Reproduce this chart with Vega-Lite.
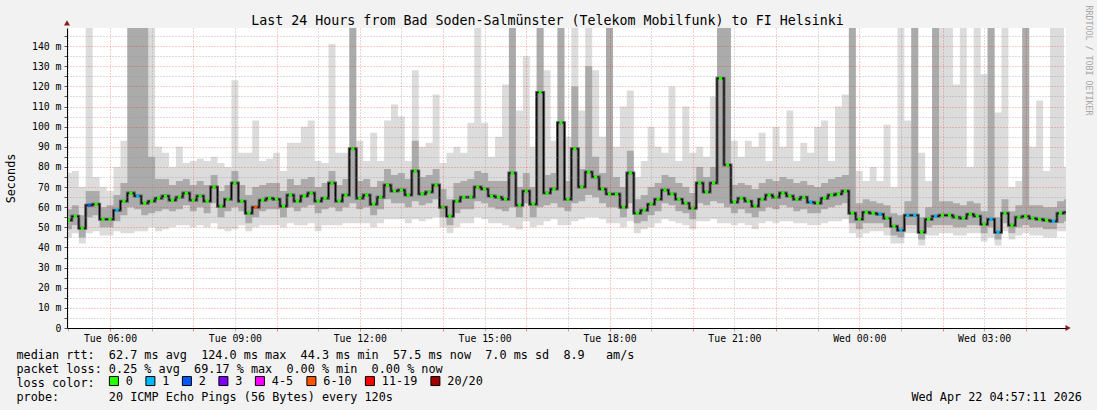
{
"$schema": "https://vega.github.io/schema/vega-lite/v6.json",
"width": 999, "height": 300,
"autosize": {"type": "none"},
"padding": {"left": 67, "top": 28, "right": 31, "bottom": 82},
"background": "#f2f2f2",
"config": {"view": {"fill": "white", "stroke": null}},
"title": {"text": "Last 24 Hours from Bad Soden-Salmünster (Telekom Mobilfunk) to FI Helsinki", "font": "DejaVu Sans Mono", "fontSize": 13.3, "fontWeight": "normal", "color": "#000000", "anchor": "middle", "dx": -19, "offset": -22.5},
"data": {"values": [
{"t":"2026-04-21T04:50Z","lo":46,"q1":50,"med":54,"q3":59,"hi":76,"loss":"0"},
{"t":"2026-04-21T05:00Z","lo":45,"q1":49,"med":53.5,"q3":59,"hi":77,"loss":"0"},
{"t":"2026-04-21T05:10Z","lo":47,"q1":51,"med":55.5,"q3":61,"hi":78,"loss":"0"},
{"t":"2026-04-21T05:20Z","lo":42,"q1":45,"med":49.5,"q3":56,"hi":70,"loss":"0"},
{"t":"2026-04-21T05:30Z","lo":47,"q1":55,"med":61,"q3":68,"hi":149,"loss":"2"},
{"t":"2026-04-21T05:40Z","lo":48,"q1":56,"med":61.5,"q3":68,"hi":75,"loss":"0"},
{"t":"2026-04-21T05:50Z","lo":46,"q1":50,"med":54,"q3":60,"hi":70,"loss":"0"},
{"t":"2026-04-21T06:00Z","lo":46,"q1":50,"med":54,"q3":61,"hi":68,"loss":"0"},
{"t":"2026-04-21T06:10Z","lo":48,"q1":53,"med":58.5,"q3":66,"hi":80,"loss":"1"},
{"t":"2026-04-21T06:20Z","lo":47,"q1":56,"med":63,"q3":72,"hi":93,"loss":"0"},
{"t":"2026-04-21T06:30Z","lo":47,"q1":60,"med":67,"q3":149,"hi":149,"loss":"0"},
{"t":"2026-04-21T06:40Z","lo":48,"q1":59,"med":65.5,"q3":149,"hi":149,"loss":"1"},
{"t":"2026-04-21T06:50Z","lo":48,"q1":56,"med":62,"q3":149,"hi":149,"loss":"0"},
{"t":"2026-04-21T07:00Z","lo":50,"q1":57,"med":63,"q3":85,"hi":149,"loss":"0"},
{"t":"2026-04-21T07:10Z","lo":48,"q1":58,"med":64.5,"q3":74,"hi":90,"loss":"0"},
{"t":"2026-04-21T07:20Z","lo":49,"q1":59,"med":65.5,"q3":74,"hi":87,"loss":"0"},
{"t":"2026-04-21T07:30Z","lo":50,"q1":58,"med":63.5,"q3":71,"hi":80,"loss":"0"},
{"t":"2026-04-21T07:40Z","lo":51,"q1":59,"med":65,"q3":73,"hi":90,"loss":"0"},
{"t":"2026-04-21T07:50Z","lo":51,"q1":61,"med":67,"q3":74,"hi":82,"loss":"0"},
{"t":"2026-04-21T08:00Z","lo":50,"q1":58,"med":63.5,"q3":71,"hi":83,"loss":"0"},
{"t":"2026-04-21T08:10Z","lo":51,"q1":60,"med":65.5,"q3":73,"hi":84,"loss":"0"},
{"t":"2026-04-21T08:20Z","lo":50,"q1":57,"med":63,"q3":71,"hi":83,"loss":"0"},
{"t":"2026-04-21T08:30Z","lo":52,"q1":62,"med":70,"q3":76,"hi":85,"loss":"0"},
{"t":"2026-04-21T08:40Z","lo":49,"q1":55,"med":60.5,"q3":68,"hi":82,"loss":"0"},
{"t":"2026-04-21T08:50Z","lo":48,"q1":58,"med":64,"q3":71,"hi":80,"loss":"0"},
{"t":"2026-04-21T09:00Z","lo":49,"q1":60,"med":72,"q3":78,"hi":123,"loss":"0"},
{"t":"2026-04-21T09:10Z","lo":51,"q1":58,"med":63,"q3":71,"hi":87,"loss":"0"},
{"t":"2026-04-21T09:20Z","lo":48,"q1":52,"med":57,"q3":66,"hi":87,"loss":"0"},
{"t":"2026-04-21T09:30Z","lo":50,"q1":55,"med":60,"q3":70,"hi":103,"loss":"6-10"},
{"t":"2026-04-21T09:40Z","lo":51,"q1":58,"med":63.5,"q3":71,"hi":83,"loss":"0"},
{"t":"2026-04-21T09:50Z","lo":51,"q1":59,"med":64.5,"q3":72,"hi":84,"loss":"0"},
{"t":"2026-04-21T10:00Z","lo":51,"q1":59,"med":64,"q3":72,"hi":87,"loss":"0"},
{"t":"2026-04-21T10:10Z","lo":50,"q1":55,"med":60.5,"q3":68,"hi":78,"loss":"0"},
{"t":"2026-04-21T10:20Z","lo":52,"q1":60,"med":66,"q3":74,"hi":92,"loss":"0"},
{"t":"2026-04-21T10:30Z","lo":51,"q1":58,"med":63,"q3":71,"hi":92,"loss":"0"},
{"t":"2026-04-21T10:40Z","lo":51,"q1":60,"med":65.5,"q3":74,"hi":100,"loss":"0"},
{"t":"2026-04-21T10:50Z","lo":52,"q1":61,"med":67,"q3":75,"hi":103,"loss":"0"},
{"t":"2026-04-21T11:00Z","lo":48,"q1":57,"med":63,"q3":70,"hi":83,"loss":"0"},
{"t":"2026-04-21T11:10Z","lo":51,"q1":59,"med":64.5,"q3":72,"hi":82,"loss":"0"},
{"t":"2026-04-21T11:20Z","lo":51,"q1":60,"med":72,"q3":78,"hi":141,"loss":"0"},
{"t":"2026-04-21T11:30Z","lo":51,"q1":58,"med":63,"q3":71,"hi":87,"loss":"0"},
{"t":"2026-04-21T11:40Z","lo":52,"q1":60,"med":66,"q3":74,"hi":87,"loss":"0"},
{"t":"2026-04-21T11:50Z","lo":52,"q1":62,"med":89,"q3":149,"hi":149,"loss":"0"},
{"t":"2026-04-21T12:00Z","lo":52,"q1":59,"med":64.5,"q3":73,"hi":93,"loss":"0"},
{"t":"2026-04-21T12:10Z","lo":52,"q1":60,"med":66,"q3":74,"hi":83,"loss":"0"},
{"t":"2026-04-21T12:20Z","lo":50,"q1":56,"med":61.5,"q3":70,"hi":97,"loss":"0"},
{"t":"2026-04-21T12:30Z","lo":52,"q1":59,"med":65,"q3":73,"hi":83,"loss":"0"},
{"t":"2026-04-21T12:40Z","lo":54,"q1":64,"med":71,"q3":79,"hi":103,"loss":"0"},
{"t":"2026-04-21T12:50Z","lo":54,"q1":62,"med":68,"q3":76,"hi":111,"loss":"0"},
{"t":"2026-04-21T13:00Z","lo":54,"q1":62,"med":68.5,"q3":77,"hi":105,"loss":"0"},
{"t":"2026-04-21T13:10Z","lo":52,"q1":60,"med":66,"q3":74,"hi":83,"loss":"0"},
{"t":"2026-04-21T13:20Z","lo":54,"q1":63,"med":78,"q3":93,"hi":128,"loss":"0"},
{"t":"2026-04-21T13:30Z","lo":53,"q1":61,"med":66.5,"q3":75,"hi":90,"loss":"0"},
{"t":"2026-04-21T13:40Z","lo":54,"q1":62,"med":67.5,"q3":76,"hi":92,"loss":"0"},
{"t":"2026-04-21T13:50Z","lo":55,"q1":64,"med":71,"q3":79,"hi":116,"loss":"0"},
{"t":"2026-04-21T14:00Z","lo":50,"q1":55,"med":60,"q3":69,"hi":82,"loss":"0"},
{"t":"2026-04-21T14:10Z","lo":47,"q1":51,"med":55.5,"q3":64,"hi":87,"loss":"0"},
{"t":"2026-04-21T14:20Z","lo":50,"q1":57,"med":63,"q3":72,"hi":90,"loss":"0"},
{"t":"2026-04-21T14:30Z","lo":52,"q1":59,"med":65,"q3":73,"hi":87,"loss":"0"},
{"t":"2026-04-21T14:40Z","lo":52,"q1":59,"med":65,"q3":74,"hi":102,"loss":"0"},
{"t":"2026-04-21T14:50Z","lo":55,"q1":63,"med":70,"q3":78,"hi":149,"loss":"0"},
{"t":"2026-04-21T15:00Z","lo":54,"q1":62,"med":69,"q3":77,"hi":102,"loss":"0"},
{"t":"2026-04-21T15:10Z","lo":52,"q1":60,"med":65.5,"q3":73,"hi":85,"loss":"0"},
{"t":"2026-04-21T15:20Z","lo":52,"q1":59,"med":65,"q3":73,"hi":95,"loss":"0"},
{"t":"2026-04-21T15:30Z","lo":51,"q1":58,"med":64,"q3":73,"hi":121,"loss":"0"},
{"t":"2026-04-21T15:40Z","lo":50,"q1":60,"med":77,"q3":149,"hi":149,"loss":"0"},
{"t":"2026-04-21T15:50Z","lo":49,"q1":55,"med":61,"q3":70,"hi":108,"loss":"0"},
{"t":"2026-04-21T16:00Z","lo":53,"q1":62,"med":68,"q3":77,"hi":135,"loss":"0"},
{"t":"2026-04-21T16:10Z","lo":50,"q1":55,"med":61.5,"q3":70,"hi":90,"loss":"0"},
{"t":"2026-04-21T16:20Z","lo":51,"q1":60,"med":117,"q3":149,"hi":149,"loss":"0"},
{"t":"2026-04-21T16:30Z","lo":53,"q1":61,"med":67,"q3":76,"hi":128,"loss":"0"},
{"t":"2026-04-21T16:40Z","lo":54,"q1":62,"med":69,"q3":77,"hi":93,"loss":"0"},
{"t":"2026-04-21T16:50Z","lo":51,"q1":60,"med":102,"q3":149,"hi":149,"loss":"0"},
{"t":"2026-04-21T17:00Z","lo":51,"q1":58,"med":64,"q3":73,"hi":95,"loss":"0"},
{"t":"2026-04-21T17:10Z","lo":53,"q1":62,"med":89,"q3":120,"hi":149,"loss":"0"},
{"t":"2026-04-21T17:20Z","lo":54,"q1":63,"med":70,"q3":79,"hi":108,"loss":"0"},
{"t":"2026-04-21T17:30Z","lo":55,"q1":66,"med":77.5,"q3":130,"hi":149,"loss":"0"},
{"t":"2026-04-21T17:40Z","lo":55,"q1":65,"med":75,"q3":85,"hi":128,"loss":"0"},
{"t":"2026-04-21T17:50Z","lo":54,"q1":62,"med":69,"q3":77,"hi":95,"loss":"0"},
{"t":"2026-04-21T18:00Z","lo":52,"q1":60,"med":66.5,"q3":149,"hi":149,"loss":"0"},
{"t":"2026-04-21T18:10Z","lo":52,"q1":60,"med":66.5,"q3":75,"hi":90,"loss":"0"},
{"t":"2026-04-21T18:20Z","lo":50,"q1":55,"med":60,"q3":70,"hi":110,"loss":"0"},
{"t":"2026-04-21T18:30Z","lo":53,"q1":62,"med":77,"q3":88,"hi":118,"loss":"0"},
{"t":"2026-04-21T18:40Z","lo":47,"q1":52,"med":57,"q3":64,"hi":75,"loss":"0"},
{"t":"2026-04-21T18:50Z","lo":49,"q1":53,"med":58.5,"q3":66,"hi":83,"loss":"0"},
{"t":"2026-04-21T19:00Z","lo":50,"q1":56,"med":61.5,"q3":70,"hi":100,"loss":"0"},
{"t":"2026-04-21T19:10Z","lo":52,"q1":58,"med":64,"q3":72,"hi":90,"loss":"0"},
{"t":"2026-04-21T19:20Z","lo":54,"q1":62,"med":68.5,"q3":76,"hi":87,"loss":"0"},
{"t":"2026-04-21T19:30Z","lo":53,"q1":61,"med":66.5,"q3":75,"hi":120,"loss":"0"},
{"t":"2026-04-21T19:40Z","lo":52,"q1":58,"med":64,"q3":72,"hi":83,"loss":"0"},
{"t":"2026-04-21T19:50Z","lo":51,"q1":57,"med":62,"q3":70,"hi":110,"loss":"0"},
{"t":"2026-04-21T20:00Z","lo":49,"q1":54,"med":59.5,"q3":67,"hi":87,"loss":"0"},
{"t":"2026-04-21T20:10Z","lo":53,"q1":62,"med":72,"q3":80,"hi":90,"loss":"0"},
{"t":"2026-04-21T20:20Z","lo":53,"q1":61,"med":67.5,"q3":75,"hi":85,"loss":"0"},
{"t":"2026-04-21T20:30Z","lo":54,"q1":63,"med":72,"q3":80,"hi":115,"loss":"0"},
{"t":"2026-04-21T20:40Z","lo":52,"q1":62,"med":124,"q3":149,"hi":149,"loss":"0"},
{"t":"2026-04-21T20:50Z","lo":52,"q1":60,"med":81,"q3":149,"hi":149,"loss":"0"},
{"t":"2026-04-21T21:00Z","lo":51,"q1":57,"med":62.5,"q3":71,"hi":93,"loss":"0"},
{"t":"2026-04-21T21:10Z","lo":52,"q1":59,"med":64.5,"q3":72,"hi":85,"loss":"0"},
{"t":"2026-04-21T21:20Z","lo":51,"q1":57,"med":63,"q3":71,"hi":93,"loss":"0"},
{"t":"2026-04-21T21:30Z","lo":49,"q1":55,"med":60.5,"q3":69,"hi":90,"loss":"0"},
{"t":"2026-04-21T21:40Z","lo":52,"q1":58,"med":64,"q3":72,"hi":97,"loss":"0"},
{"t":"2026-04-21T21:50Z","lo":53,"q1":60,"med":66,"q3":74,"hi":83,"loss":"0"},
{"t":"2026-04-21T22:00Z","lo":52,"q1":59,"med":65,"q3":73,"hi":100,"loss":"0"},
{"t":"2026-04-21T22:10Z","lo":53,"q1":61,"med":67,"q3":75,"hi":90,"loss":"0"},
{"t":"2026-04-21T22:20Z","lo":53,"q1":60,"med":65.5,"q3":74,"hi":108,"loss":"0"},
{"t":"2026-04-21T22:30Z","lo":52,"q1":58,"med":64,"q3":72,"hi":83,"loss":"0"},
{"t":"2026-04-21T22:40Z","lo":52,"q1":59,"med":65,"q3":73,"hi":92,"loss":"0"},
{"t":"2026-04-21T22:50Z","lo":51,"q1":57,"med":62.5,"q3":71,"hi":87,"loss":"1"},
{"t":"2026-04-21T23:00Z","lo":51,"q1":57,"med":62,"q3":70,"hi":100,"loss":"0"},
{"t":"2026-04-21T23:10Z","lo":52,"q1":59,"med":64.5,"q3":72,"hi":103,"loss":"0"},
{"t":"2026-04-21T23:20Z","lo":53,"q1":60,"med":66,"q3":74,"hi":83,"loss":"0"},
{"t":"2026-04-21T23:30Z","lo":53,"q1":61,"med":66.5,"q3":75,"hi":110,"loss":"0"},
{"t":"2026-04-21T23:40Z","lo":54,"q1":62,"med":68,"q3":76,"hi":116,"loss":"0"},
{"t":"2026-04-21T23:50Z","lo":47,"q1":52,"med":57,"q3":149,"hi":149,"loss":"0"},
{"t":"2026-04-22T00:00Z","lo":45,"q1":49,"med":54,"q3":62,"hi":78,"loss":"0"},
{"t":"2026-04-22T00:10Z","lo":47,"q1":52,"med":57.5,"q3":64,"hi":73,"loss":"0"},
{"t":"2026-04-22T00:20Z","lo":48,"q1":52,"med":57,"q3":63,"hi":80,"loss":"0"},
{"t":"2026-04-22T00:30Z","lo":48,"q1":52,"med":56.5,"q3":62,"hi":73,"loss":"1"},
{"t":"2026-04-22T00:40Z","lo":46,"q1":50,"med":54.5,"q3":61,"hi":101,"loss":"0"},
{"t":"2026-04-22T00:50Z","lo":42,"q1":46,"med":50.5,"q3":57,"hi":70,"loss":"0"},
{"t":"2026-04-22T01:00Z","lo":42,"q1":45,"med":48.5,"q3":56,"hi":149,"loss":"1"},
{"t":"2026-04-22T01:10Z","lo":47,"q1":51,"med":56,"q3":63,"hi":103,"loss":"1"},
{"t":"2026-04-22T01:20Z","lo":47,"q1":51,"med":56,"q3":149,"hi":149,"loss":"1"},
{"t":"2026-04-22T01:30Z","lo":41,"q1":44,"med":47.5,"q3":55,"hi":87,"loss":"0"},
{"t":"2026-04-22T01:40Z","lo":46,"q1":50,"med":54,"q3":60,"hi":73,"loss":"0"},
{"t":"2026-04-22T01:50Z","lo":46,"q1":51,"med":55.5,"q3":149,"hi":149,"loss":"1"},
{"t":"2026-04-22T02:00Z","lo":47,"q1":51,"med":56,"q3":63,"hi":149,"loss":"0"},
{"t":"2026-04-22T02:10Z","lo":47,"q1":51,"med":56,"q3":63,"hi":149,"loss":"0"},
{"t":"2026-04-22T02:20Z","lo":46,"q1":50,"med":55,"q3":62,"hi":121,"loss":"0"},
{"t":"2026-04-22T02:30Z","lo":46,"q1":50,"med":54.5,"q3":61,"hi":149,"loss":"0"},
{"t":"2026-04-22T02:40Z","lo":47,"q1":51,"med":56.5,"q3":63,"hi":80,"loss":"0"},
{"t":"2026-04-22T02:50Z","lo":47,"q1":51,"med":55.5,"q3":62,"hi":149,"loss":"0"},
{"t":"2026-04-22T03:00Z","lo":43,"q1":47,"med":51.5,"q3":58,"hi":126,"loss":"0"},
{"t":"2026-04-22T03:10Z","lo":45,"q1":50,"med":54,"q3":149,"hi":149,"loss":"1"},
{"t":"2026-04-22T03:20Z","lo":41,"q1":44,"med":47.5,"q3":55,"hi":107,"loss":"1"},
{"t":"2026-04-22T03:30Z","lo":48,"q1":52,"med":57,"q3":64,"hi":149,"loss":"0"},
{"t":"2026-04-22T03:40Z","lo":44,"q1":47,"med":51,"q3":58,"hi":70,"loss":"0"},
{"t":"2026-04-22T03:50Z","lo":46,"q1":50,"med":55,"q3":61,"hi":73,"loss":"0"},
{"t":"2026-04-22T04:00Z","lo":47,"q1":51,"med":55.5,"q3":149,"hi":149,"loss":"0"},
{"t":"2026-04-22T04:10Z","lo":46,"q1":50,"med":54.5,"q3":61,"hi":90,"loss":"0"},
{"t":"2026-04-22T04:20Z","lo":46,"q1":50,"med":54,"q3":61,"hi":113,"loss":"0"},
{"t":"2026-04-22T04:30Z","lo":45,"q1":49,"med":53.5,"q3":60,"hi":78,"loss":"0"},
{"t":"2026-04-22T04:40Z","lo":45,"q1":49,"med":53,"q3":60,"hi":149,"loss":"1"},
{"t":"2026-04-22T04:50Z","lo":48,"q1":52,"med":57,"q3":63,"hi":149,"loss":"0"},
{"t":"2026-04-22T05:00Z","lo":48,"q1":53,"med":57.5,"q3":64,"hi":80,"loss":"0"}
]},
"resolve": {"axis": {"y": "independent"}},
"layer": [
{"mark": {"type": "area", "interpolate": "step", "color": "#dcdcdc", "clip": true},
 "encoding": {
  "x": {"field": "t", "type": "temporal",
    "scale": {"type": "utc", "domain": [1776747480000, 1776833880000]},
    "axis": {"orient": "bottom",
      "values": [1776747600000,1776749400000,1776751200000,1776753000000,1776754800000,1776756600000,1776758400000,1776760200000,1776762000000,1776763800000,1776765600000,1776767400000,1776769200000,1776771000000,1776772800000,1776774600000,1776776400000,1776778200000,1776780000000,1776781800000,1776783600000,1776785400000,1776787200000,1776789000000,1776790800000,1776792600000,1776794400000,1776796200000,1776798000000,1776799800000,1776801600000,1776803400000,1776805200000,1776807000000,1776808800000,1776810600000,1776812400000,1776814200000,1776816000000,1776817800000,1776819600000,1776821400000,1776823200000,1776825000000,1776826800000,1776828600000,1776830400000,1776832200000],
      "labelExpr": "utcminutes(datum.value) == 0 && utchours(datum.value) % 3 == 0 ? utcFormat(datum.value, '%a %H:%M') : ''",
      "labelFont": "DejaVu Sans Mono", "labelFontSize": 9.8, "labelColor": "#000000", "labelPadding": 2, "labelOverlap": false, "labelFlush": false,
      "ticks": true, "tickSize": 3,
      "tickColor": {"condition": {"test": "utcminutes(datum.value) == 0 && utchours(datum.value) % 2 == 0", "value": "#f08080"}, "value": "#b0b0b0"},
      "domain": true, "domainColor": "#000000", "domainWidth": 1,
      "grid": true, "gridDash": [1, 2], "gridWidth": 1,
      "gridColor": {"condition": {"test": "utcminutes(datum.value) == 0 && utchours(datum.value) % 2 == 0", "value": "#ff0000"}, "value": "#8c8c8c"},
      "gridOpacity": {"condition": {"test": "utcminutes(datum.value) == 0 && utchours(datum.value) % 2 == 0", "value": 0.4}, "value": 0.6},
      "zindex": 1,
      "title": [
        "median\u00a0rtt:\u00a0\u00a062.7\u00a0ms\u00a0avg\u00a0\u00a0124.0\u00a0ms\u00a0max\u00a0\u00a044.3\u00a0ms\u00a0min\u00a0\u00a057.5\u00a0ms\u00a0now\u00a0\u00a07.0\u00a0ms\u00a0sd\u00a0\u00a08.9\u00a0\u00a0\u00a0am/s",
        "packet\u00a0loss:\u00a00.25\u00a0%\u00a0avg\u00a0\u00a069.17\u00a0%\u00a0max\u00a0\u00a00.00\u00a0%\u00a0min\u00a0\u00a00.00\u00a0%\u00a0now",
        "loss\u00a0color:",
        "probe:\u00a0\u00a0\u00a0\u00a0\u00a0\u00a0\u00a020\u00a0ICMP\u00a0Echo\u00a0Pings\u00a0(56\u00a0Bytes)\u00a0every\u00a0120s\u00a0\u00a0\u00a0\u00a0\u00a0\u00a0\u00a0\u00a0\u00a0\u00a0\u00a0\u00a0\u00a0\u00a0\u00a0\u00a0\u00a0\u00a0\u00a0\u00a0\u00a0\u00a0\u00a0\u00a0\u00a0\u00a0\u00a0\u00a0\u00a0\u00a0\u00a0\u00a0\u00a0\u00a0\u00a0\u00a0\u00a0\u00a0\u00a0\u00a0\u00a0\u00a0\u00a0\u00a0\u00a0\u00a0\u00a0\u00a0\u00a0\u00a0\u00a0\u00a0\u00a0\u00a0\u00a0\u00a0\u00a0\u00a0\u00a0\u00a0\u00a0\u00a0\u00a0\u00a0\u00a0\u00a0\u00a0\u00a0\u00a0\u00a0\u00a0\u00a0\u00a0Wed\u00a0Apr\u00a022\u00a004:57:11\u00a02026"
      ],
      "titleX": -51, "titleY": 30, "titleAlign": "left", "titleAnchor": "start", "titleBaseline": "alphabetic", "titleAngle": 0,
      "titleFont": "DejaVu Sans Mono", "titleFontSize": 11.8, "titleFontWeight": "normal", "titleColor": "#000000", "titleLineHeight": 14}},
  "y": {"field": "hi", "type": "quantitative", "scale": {"domain": [0, 149], "nice": false, "zero": true},
    "axis": {"orient": "left", "values": [0,5,10,15,20,25,30,35,40,45,50,55,60,65,70,75,80,85,90,95,100,105,110,115,120,125,130,135,140,145],
      "labelExpr": "datum.value % 10 != 0 ? '' : (datum.value == 0 ? '0\u00a0\u00a0' : datum.value + '\u00a0m')",
      "labelFont": "DejaVu Sans Mono", "labelFontSize": 9.8, "labelColor": "#000000", "labelPadding": 3,
      "ticks": true, "tickSize": 3, "tickColor": "#555555",
      "domain": true, "domainColor": "#000000", "domainWidth": 1,
      "grid": true, "gridDash": [1, 2], "gridWidth": 1,
      "gridColor": {"condition": {"test": "datum.value % 10 == 0", "value": "#ff0000"}, "value": "#8c8c8c"},
      "gridOpacity": {"condition": {"test": "datum.value % 10 == 0", "value": 0.4}, "value": 0.6},
      "zindex": 1,
      "title": "Seconds", "titleFont": "DejaVu Sans Mono", "titleFontSize": 11.8, "titleFontWeight": "normal", "titleColor": "#000000", "titleX": -57, "titleY": 150, "titleAlign": "center", "titleBaseline": "middle", "titleAngle": 270}},
  "y2": {"field": "lo"}
 }},
{"mark": {"type": "area", "interpolate": "step", "color": "#ababab", "clip": true},
 "encoding": {
  "x": {"field": "t", "type": "temporal"},
  "y": {"field": "q3", "type": "quantitative", "axis": null},
  "y2": {"field": "q1"}
 }},
{"mark": {"type": "line", "interpolate": "step", "color": "#5a5a5a", "strokeWidth": 3, "clip": true},
 "encoding": {
  "x": {"field": "t", "type": "temporal"},
  "y": {"field": "med", "type": "quantitative", "axis": null}
 }},
{"mark": {"type": "line", "interpolate": "step", "color": "#000000", "strokeWidth": 1, "clip": true},
 "encoding": {
  "x": {"field": "t", "type": "temporal"},
  "y": {"field": "med", "type": "quantitative",
    "axis": {"orient": "right", "labels": false, "ticks": false, "domain": false, "grid": false, "title": "RRDTOOL / TOBI OETIKER", "titleFont": "DejaVu Sans Mono", "titleFontSize": 8.3, "titleFontWeight": "normal", "titleColor": "#a6a6a6", "titleAngle": 90, "titleX": 21, "titleY": 32, "titleAlign": "center", "titleBaseline": "middle"}}
 }},
{"mark": {"type": "point", "shape": "square", "filled": true, "size": 10, "opacity": 1, "clip": true},
 "encoding": {
  "x": {"field": "t", "type": "temporal"},
  "y": {"field": "med", "type": "quantitative", "axis": null},
  "color": {"field": "loss", "type": "nominal",
    "scale": {"domain": ["0", "1", "2", "3", "4-5", "6-10", "11-19", "20/20"], "range": ["#26ff00", "#00b8ff", "#0059ff", "#7e00ff", "#ff00ff", "#ff5500", "#ff0000", "#a10000"]},
    "legend": {"orient": "none", "legendX": 41, "legendY": 347, "direction": "horizontal", "columns": 8, "title": null, "symbolType": "square", "symbolSize": 81, "symbolStrokeColor": "#000000", "symbolStrokeWidth": 1, "symbolOpacity": 1, "labelFont": "DejaVu Sans Mono", "labelFontSize": 11.8, "labelColor": "#000000", "labelOffset": 6, "columnPadding": 10.5, "padding": 0}}
 }},
{"data": {"values": [{"t": "2026-04-21T04:58Z", "v": 151.5}]},
 "mark": {"type": "point", "shape": "triangle-up", "filled": true, "color": "#8b1a1a", "size": 36, "opacity": 1},
 "encoding": {
  "x": {"field": "t", "type": "temporal"},
  "y": {"field": "v", "type": "quantitative", "axis": null}
 }},
{"data": {"values": [{"t": "2026-04-22T05:01Z", "v": 0}]},
 "mark": {"type": "point", "shape": "triangle-right", "filled": true, "color": "#8b1a1a", "size": 36, "opacity": 1},
 "encoding": {
  "x": {"field": "t", "type": "temporal"},
  "y": {"field": "v", "type": "quantitative", "axis": null}
 }}
]
}
